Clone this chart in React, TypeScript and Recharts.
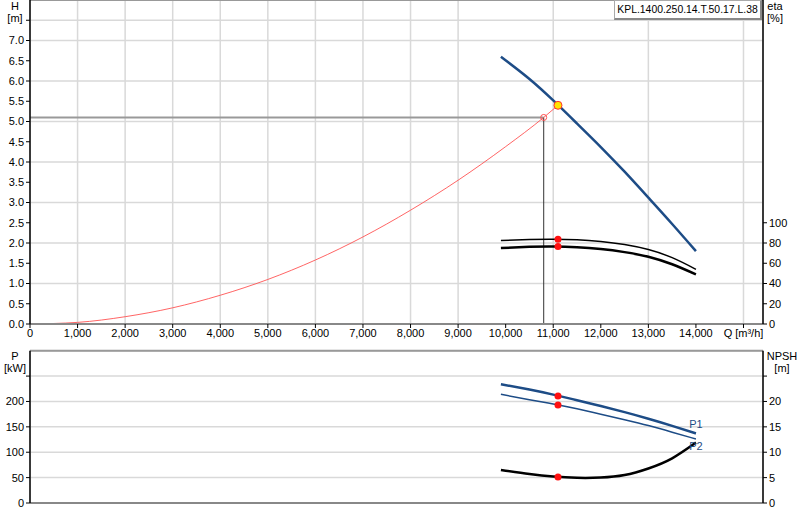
import {
  ComposedChart,
  Line,
  XAxis,
  YAxis,
  CartesianGrid,
  ReferenceLine,
  ReferenceDot,
} from "recharts";

const Q_TICKS = [0, 1000, 2000, 3000, 4000, 5000, 6000, 7000, 8000, 9000, 10000, 11000, 12000, 13000, 14000, 15000];
const H_TICKS = [0, 0.5, 1, 1.5, 2, 2.5, 3, 3.5, 4, 4.5, 5, 5.5, 6, 6.5, 7, 7.5];
const ETA_TICKS = [0, 20, 40, 60, 80, 100];
const P_TICKS = [0, 50, 100, 150, 200, 250];
const NPSH_TICKS = [0, 5, 10, 15, 20, 25];

// pump curve
const PUMP_Q = [9900, 10500, 11000, 11500, 12000, 12500, 13000, 13500, 14000];
const HEAD = [6.6, 6.05, 5.52, 4.95, 4.37, 3.76, 3.12, 2.47, 1.8];
const ETA_1 = [82.5, 83.5, 83.8, 83.2, 81.5, 78.5, 73.5, 65.5, 54];
const ETA_2 = [75, 76.2, 76.5, 75.8, 74, 71, 66.5, 59, 49];
const POWER_1 = [234, 223.5, 213.5, 202.5, 191, 179, 166, 152, 137];
const POWER_2 = [214, 203.5, 195, 185.5, 175, 164, 152.5, 139.5, 126];
const NPSH = [6.5, 5.7, 5.2, 4.95, 5.0, 5.5, 6.8, 8.8, 11.9];

// system curve
const SYS_Q = [0, 1000, 2000, 3000, 4000, 5000, 6000, 7000, 8000, 9000, 10000, 10800, 11100];
const SYS_H = [0, 0.04, 0.18, 0.4, 0.71, 1.1, 1.58, 2.15, 2.81, 3.55, 4.38, 5.1, 5.4];

// duty / operating point
const DUTY_Q = 10800;
const DUTY_H = 5.1;
const OP_Q = 11100;
const OP_H = 5.4;
const OP_ETA_1 = 83.6;
const OP_ETA_2 = 76.5;
const OP_P_1 = 211;
const OP_P_2 = 193;
const OP_NPSH = 5.1;

const Q_MAX = 15410;
const BLUE = "#1d4c86";
const GRID = "#d9d9d9";
const FONT = "'Liberation Sans', Arial, sans-serif";
const TICK = { fontSize: 11, fill: "#000", fontFamily: FONT };

const pumpData = PUMP_Q.map((q, i) => ({
  q,
  h: HEAD[i],
  eta1: ETA_1[i],
  eta2: ETA_2[i],
  p1: POWER_1[i],
  p2: POWER_2[i],
  npsh: NPSH[i],
}));
const sysData = SYS_Q.map((q, i) => ({ q, sys: SYS_H[i] }));

const fmtQ = (v: number) => (v === 15000 ? "Q [m³/h]" : v.toLocaleString("en-US"));
const fmtH = (v: number) => (v === 7.5 ? "" : v.toFixed(1));
const fmtLast = (last: number) => (v: number) => (v === last ? "" : String(v));

function endLabel(text: string, dy: number) {
  return (props: any) => {
    if (props.index !== PUMP_Q.length - 1) return null;
    return (
      <text x={props.x} y={props.y + dy} textAnchor="middle" fontSize={11} fontFamily={FONT} fill={BLUE}>
        {text}
      </text>
    );
  };
}

const axisText: React.CSSProperties = {
  position: "absolute",
  fontFamily: FONT,
  fontSize: 11,
  lineHeight: "12px",
  textAlign: "center",
  color: "#000",
};

export default function App() {
  return (
    <div style={{ position: "absolute", left: 0, top: 0, width: 800, height: 520, background: "#fff" }}>
      <div style={{ ...axisText, left: 4, top: 0, width: 22 }}>H<br />[m]</div>
      <div style={{ ...axisText, left: 764, top: 0, width: 22 }}>eta<br />[%]</div>
      <div style={{ ...axisText, left: 2, top: 350, width: 26 }}>P<br />[kW]</div>
      <div style={{ ...axisText, left: 765, top: 350, width: 34 }}>NPSH<br />[m]</div>

      <div style={{ position: "absolute", left: 0, top: 0 }}>
        <ComposedChart width={800} height={345} margin={{ top: 0, right: 0, bottom: 0, left: 0 }}>
          <CartesianGrid stroke={GRID} strokeWidth={1.5} xAxisId="q" yAxisId="h" />
          <XAxis
            xAxisId="q"
            type="number"
            dataKey="q"
            domain={[0, Q_MAX]}
            ticks={Q_TICKS}
            tickFormatter={fmtQ}
            allowDataOverflow
            height={21}
            tick={TICK}
            tickSize={4}
            tickMargin={1}
            axisLine={{ stroke: "#888", strokeWidth: 2 }}
            tickLine={{ stroke: "#000" }}
          />
          <YAxis
            yAxisId="h"
            domain={[0, 8]}
            ticks={H_TICKS}
            tickFormatter={fmtH}
            width={30}
            tick={TICK}
            tickSize={4}
            tickMargin={2}
            axisLine={{ stroke: "#000", strokeWidth: 1.5 }}
            tickLine={{ stroke: "#000" }}
          />
          <YAxis
            yAxisId="eta"
            orientation="right"
            domain={[0, 320]}
            ticks={ETA_TICKS}
            width={37}
            tick={TICK}
            tickSize={4}
            tickMargin={2}
            axisLine={{ stroke: "#000", strokeWidth: 1.5 }}
            tickLine={{ stroke: "#000" }}
          />
          <ReferenceLine xAxisId="q" yAxisId="h" y={8} stroke="#999" strokeWidth={2} />
          <ReferenceLine
            xAxisId="q"
            yAxisId="h"
            segment={[{ x: 0, y: DUTY_H }, { x: DUTY_Q, y: DUTY_H }]}
            stroke="#999"
            strokeWidth={2}
          />
          <ReferenceLine
            xAxisId="q"
            yAxisId="h"
            segment={[{ x: DUTY_Q, y: 0 }, { x: DUTY_Q, y: DUTY_H }]}
            stroke="#333"
            strokeWidth={1}
          />
          <Line
            xAxisId="q"
            yAxisId="h"
            data={sysData}
            dataKey="sys"
            type="monotone"
            stroke="#ff4a4a"
            strokeOpacity={0.85}
            strokeWidth={1}
            dot={false}
            isAnimationActive={false}
          />
          <Line
            xAxisId="q"
            yAxisId="h"
            data={pumpData}
            dataKey="h"
            type="natural"
            stroke={BLUE}
            strokeWidth={2.5}
            dot={false}
            isAnimationActive={false}
          />
          <Line
            xAxisId="q"
            yAxisId="eta"
            data={pumpData}
            dataKey="eta1"
            type="natural"
            stroke="#000"
            strokeWidth={1.5}
            dot={false}
            isAnimationActive={false}
          />
          <Line
            xAxisId="q"
            yAxisId="eta"
            data={pumpData}
            dataKey="eta2"
            type="natural"
            stroke="#000"
            strokeWidth={2.5}
            dot={false}
            isAnimationActive={false}
          />
          <ReferenceDot xAxisId="q" yAxisId="h" x={DUTY_Q} y={DUTY_H} r={3} fill="#fff" fillOpacity={0} stroke="#ff5050" />
          <ReferenceDot xAxisId="q" yAxisId="h" x={OP_Q} y={OP_H} r={4} fill="#ffe400" stroke="#ff3030" strokeWidth={1} />
          <ReferenceDot xAxisId="q" yAxisId="eta" x={OP_Q} y={OP_ETA_1} r={3.5} fill="#ff1010" stroke="none" />
          <ReferenceDot xAxisId="q" yAxisId="eta" x={OP_Q} y={OP_ETA_2} r={3.5} fill="#ff1010" stroke="none" />
        </ComposedChart>
      </div>

      <div
        style={{
          position: "absolute",
          left: 614,
          top: 0,
          width: 145,
          height: 17,
          border: "1px solid #aaa",
          borderRight: "2px solid #888",
          borderBottom: "2px solid #888",
          background: "#fff",
          fontFamily: FONT,
          fontSize: 10.4,
          lineHeight: "17px",
          textAlign: "center",
          whiteSpace: "nowrap",
        }}
      >
        KPL.1400.250.14.T.50.17.L.38
      </div>

      <div style={{ position: "absolute", left: 0, top: 340 }}>
        <ComposedChart width={800} height={180} margin={{ top: 10.7, right: 0, bottom: 0, left: 0 }}>
          <CartesianGrid stroke={GRID} strokeWidth={1.5} xAxisId="q" yAxisId="p" />
          <XAxis
            xAxisId="q"
            type="number"
            dataKey="q"
            domain={[0, Q_MAX]}
            ticks={Q_TICKS}
            allowDataOverflow
            height={17}
            tick={false}
            tickLine={false}
            axisLine={{ stroke: "#888", strokeWidth: 2 }}
          />
          <YAxis
            yAxisId="p"
            domain={[0, 300]}
            ticks={P_TICKS}
            tickFormatter={fmtLast(250)}
            width={30}
            tick={TICK}
            tickSize={4}
            tickMargin={2}
            axisLine={{ stroke: "#000", strokeWidth: 1.5 }}
            tickLine={{ stroke: "#000" }}
          />
          <YAxis
            yAxisId="npsh"
            orientation="right"
            domain={[0, 30]}
            ticks={NPSH_TICKS}
            tickFormatter={fmtLast(25)}
            width={37}
            tick={TICK}
            tickSize={4}
            tickMargin={2}
            axisLine={{ stroke: "#000", strokeWidth: 1.5 }}
            tickLine={{ stroke: "#000" }}
          />
          <ReferenceLine xAxisId="q" yAxisId="p" y={300} stroke="#999" strokeWidth={2} />
          <Line
            xAxisId="q"
            yAxisId="p"
            data={pumpData}
            dataKey="p1"
            type="natural"
            stroke={BLUE}
            strokeWidth={2.5}
            dot={false}
            label={endLabel("P1", -5)}
            isAnimationActive={false}
          />
          <Line
            xAxisId="q"
            yAxisId="p"
            data={pumpData}
            dataKey="p2"
            type="natural"
            stroke={BLUE}
            strokeWidth={1.5}
            dot={false}
            label={endLabel("P2", 11)}
            isAnimationActive={false}
          />
          <Line
            xAxisId="q"
            yAxisId="npsh"
            data={pumpData}
            dataKey="npsh"
            type="natural"
            stroke="#000"
            strokeWidth={2.5}
            dot={false}
            isAnimationActive={false}
          />
          <ReferenceDot xAxisId="q" yAxisId="p" x={OP_Q} y={OP_P_1} r={3.5} fill="#ff1010" stroke="none" />
          <ReferenceDot xAxisId="q" yAxisId="p" x={OP_Q} y={OP_P_2} r={3.5} fill="#ff1010" stroke="none" />
          <ReferenceDot xAxisId="q" yAxisId="npsh" x={OP_Q} y={OP_NPSH} r={3.5} fill="#ff1010" stroke="none" />
        </ComposedChart>
      </div>
    </div>
  );
}
